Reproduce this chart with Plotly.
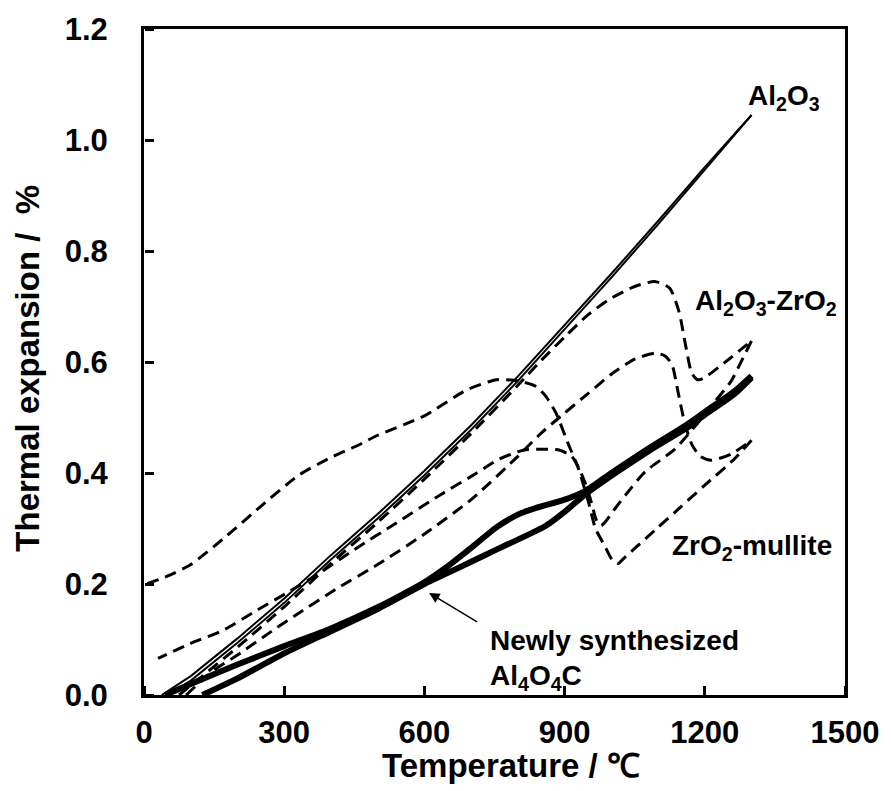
import plotly.graph_objects as go

# ---------------- data ----------------
temp_ticks = [0, 300, 600, 900, 1200, 1500]
exp_ticks = [0.0, 0.2, 0.4, 0.6, 0.8, 1.0, 1.2]

# Al2O3 (heating / cooling, nearly coincident)
al2o3_heat_x = [50, 100, 200, 300, 400, 500, 600, 700, 800, 900, 1000, 1100, 1200, 1300]
al2o3_heat_y = [0.0, 0.026, 0.094, 0.166, 0.244, 0.318, 0.396, 0.478, 0.566, 0.658, 0.752, 0.848, 0.946, 1.045]
al2o3_cool_x = [38, 100, 200, 300, 400, 500, 600, 700, 800, 900, 1000, 1100, 1200, 1300]
al2o3_cool_y = [0.0, 0.034, 0.102, 0.174, 0.252, 0.326, 0.404, 0.486, 0.574, 0.666, 0.759, 0.854, 0.951, 1.045]

# Al2O3-ZrO2
azr_heat_x = [75, 200, 300, 400, 500, 600, 700, 800, 850, 900, 950, 1000, 1050, 1093, 1125,
              1145, 1160, 1172, 1185, 1200, 1250, 1300]
azr_heat_y = [0.0, 0.086, 0.159, 0.237, 0.311, 0.389, 0.471, 0.558, 0.603, 0.645, 0.685, 0.715, 0.736,
              0.745, 0.733, 0.69, 0.625, 0.58, 0.568, 0.572, 0.604, 0.638]
azr_cool_x = [1300, 1284, 1256, 1220, 1180, 1136, 1072, 1030, 1008, 990, 978, 968, 958, 945, 930,
              915, 890, 850, 811, 760, 712, 633, 540, 450, 380, 310, 240, 170, 100, 30]
azr_cool_y = [0.638, 0.611, 0.565, 0.527, 0.485, 0.443, 0.402, 0.36, 0.336, 0.315, 0.305, 0.315,
              0.345, 0.38, 0.41, 0.43, 0.441, 0.443, 0.441, 0.425, 0.40, 0.36, 0.31, 0.262, 0.222,
              0.186, 0.152, 0.117, 0.093, 0.066]

# ZrO2-mullite
zm_heat_x = [90, 150, 200, 275, 330, 415, 500, 600, 700, 800, 850, 900, 950, 1000, 1050, 1093,
             1115, 1130, 1143, 1157, 1172, 1190, 1214, 1256, 1300]
zm_heat_y = [0.0, 0.045, 0.072, 0.116, 0.147, 0.193, 0.235, 0.29, 0.352, 0.43, 0.472, 0.508, 0.543,
             0.578, 0.605, 0.616, 0.611, 0.595, 0.545, 0.49, 0.452, 0.43, 0.423, 0.434, 0.459]
zm_cool_x = [1300, 1263, 1200, 1150, 1100, 1050, 1025, 1015, 1003, 985, 966, 951, 930, 909, 881,
             860, 839, 800, 754, 691, 600, 500, 458, 400, 331, 250, 176, 100, 50, 5]
zm_cool_y = [0.459, 0.425, 0.378, 0.34, 0.302, 0.264, 0.245, 0.237, 0.242, 0.27, 0.30, 0.348, 0.407,
             0.45, 0.509, 0.538, 0.556, 0.566, 0.568, 0.55, 0.503, 0.468, 0.45, 0.428, 0.396, 0.34,
             0.286, 0.235, 0.214, 0.2]

# Newly synthesized Al4O4C
aoc_a_x = [45, 100, 200, 300, 400, 500, 600, 650, 700, 754, 800, 839, 900, 945, 1000, 1050, 1100,
           1163, 1200, 1263, 1300]
aoc_a_y = [0.0, 0.02, 0.055, 0.088, 0.12, 0.158, 0.203, 0.232, 0.265, 0.302, 0.325, 0.337, 0.352,
           0.368, 0.40, 0.428, 0.455, 0.488, 0.51, 0.547, 0.575]
aoc_b_x = [125, 200, 300, 400, 500, 600, 650, 700, 754, 800, 860, 900, 945, 1000, 1050, 1100, 1163,
           1200, 1263, 1300]
aoc_b_y = [0.0, 0.03, 0.075, 0.115, 0.155, 0.2, 0.22, 0.24, 0.262, 0.28, 0.305, 0.33, 0.362, 0.395,
           0.423, 0.45, 0.482, 0.505, 0.542, 0.572]

FONT = "Liberation Sans, Arial, sans-serif"
DASH = "12px,7px"

fig = go.Figure()


def add(x, y, width, dash="solid", smooth=True):
    fig.add_trace(go.Scatter(
        x=x, y=y, mode="lines",
        line=dict(color="black", width=width, dash=dash,
                  shape="spline" if smooth else "linear", smoothing=0.6),
        showlegend=False, hoverinfo="skip"))


add(al2o3_heat_x, al2o3_heat_y, 2, smooth=False)
add(al2o3_cool_x, al2o3_cool_y, 2, smooth=False)
add(azr_heat_x, azr_heat_y, 3, DASH)
add(azr_cool_x, azr_cool_y, 3, DASH)
add(zm_heat_x, zm_heat_y, 3, DASH)
add(zm_cool_x, zm_cool_y, 3, DASH)
add(aoc_a_x, aoc_a_y, 6)
add(aoc_b_x, aoc_b_y, 6)

# empty trace so that the tick-only overlay axes (inward pointing ticks) are drawn
fig.add_trace(go.Scatter(x=[], y=[], xaxis="x2", yaxis="y2", showlegend=False,
                         hoverinfo="skip"))

label_font = dict(family=FONT, size=28, color="black", weight="bold")
ann = [
    dict(x=1288, y=1.077, text="Al<sub>2</sub>O<sub>3</sub>", xanchor="left", yanchor="middle",
         showarrow=False, font=label_font),
    dict(x=1174, y=0.707, text="Al<sub>2</sub>O<sub>3</sub>-ZrO<sub>2</sub>", xanchor="left",
         yanchor="middle", showarrow=False, font=label_font),
    dict(x=1125, y=0.266, text="ZrO<sub>2</sub>-mullite", xanchor="left", yanchor="middle",
         showarrow=False, font=label_font),
    dict(x=737, y=0.098, text="Newly synthesized", xanchor="left", yanchor="middle",
         showarrow=False, font=label_font),
    dict(x=737, y=0.032, text="Al<sub>4</sub>O<sub>4</sub>C", xanchor="left", yanchor="middle",
         showarrow=False, font=label_font),
    dict(x=610, y=0.184, ax=716, ay=0.13, axref="x", ayref="y", xref="x", yref="y", text="",
         showarrow=True, arrowhead=2, arrowsize=1.4, arrowwidth=1.5, arrowcolor="black"),
    # axis titles
    dict(x=0.524, y=0, xref="paper", yref="paper", yshift=-70, text="Temperature / \u2103",
         showarrow=False, xanchor="center", yanchor="middle",
         font=dict(family=FONT, size=33, color="black", weight="bold")),
    dict(x=0, y=0.49, xref="paper", yref="paper", xshift=-116, text="Thermal expansion /  %",
         textangle=-90, showarrow=False, xanchor="center", yanchor="middle",
         font=dict(family=FONT, size=33, color="black", weight="bold")),
]

tick_font = dict(family=FONT, size=31, color="black", weight="bold")
fig.update_layout(
    width=891, height=791,
    margin=dict(l=144, r=39, t=23, b=96),
    paper_bgcolor="white", plot_bgcolor="white",
    annotations=ann,
    xaxis=dict(range=[0, 1500], tickvals=temp_ticks, ticktext=[str(v) for v in temp_ticks],
               ticks="", showline=True, linewidth=3, linecolor="black", mirror=True,
               showgrid=False, zeroline=False, ticklabelstandoff=8, tickfont=tick_font),
    yaxis=dict(range=[0, 1.2], tickvals=exp_ticks, ticktext=[f"{v:.1f}" for v in exp_ticks],
               ticks="", showline=True, linewidth=3, linecolor="black", mirror=True,
               showgrid=False, zeroline=False, ticklabelstandoff=27, tickfont=tick_font),
    # tick-only axes: a top-side axis placed at the bottom edge -> ticks point up into the plot
    xaxis2=dict(range=[0, 1500], tickvals=temp_ticks, overlaying="x", side="top",
                anchor="free", position=0, ticks="outside", ticklen=9, tickwidth=3,
                tickcolor="black", showticklabels=False, showline=False, showgrid=False,
                zeroline=False),
    yaxis2=dict(range=[0, 1.2], tickvals=exp_ticks, overlaying="y", side="right",
                anchor="free", position=0, ticks="outside", ticklen=9, tickwidth=3,
                tickcolor="black", showticklabels=False, showline=False, showgrid=False,
                zeroline=False),
)

fig.write_html("out.html")
